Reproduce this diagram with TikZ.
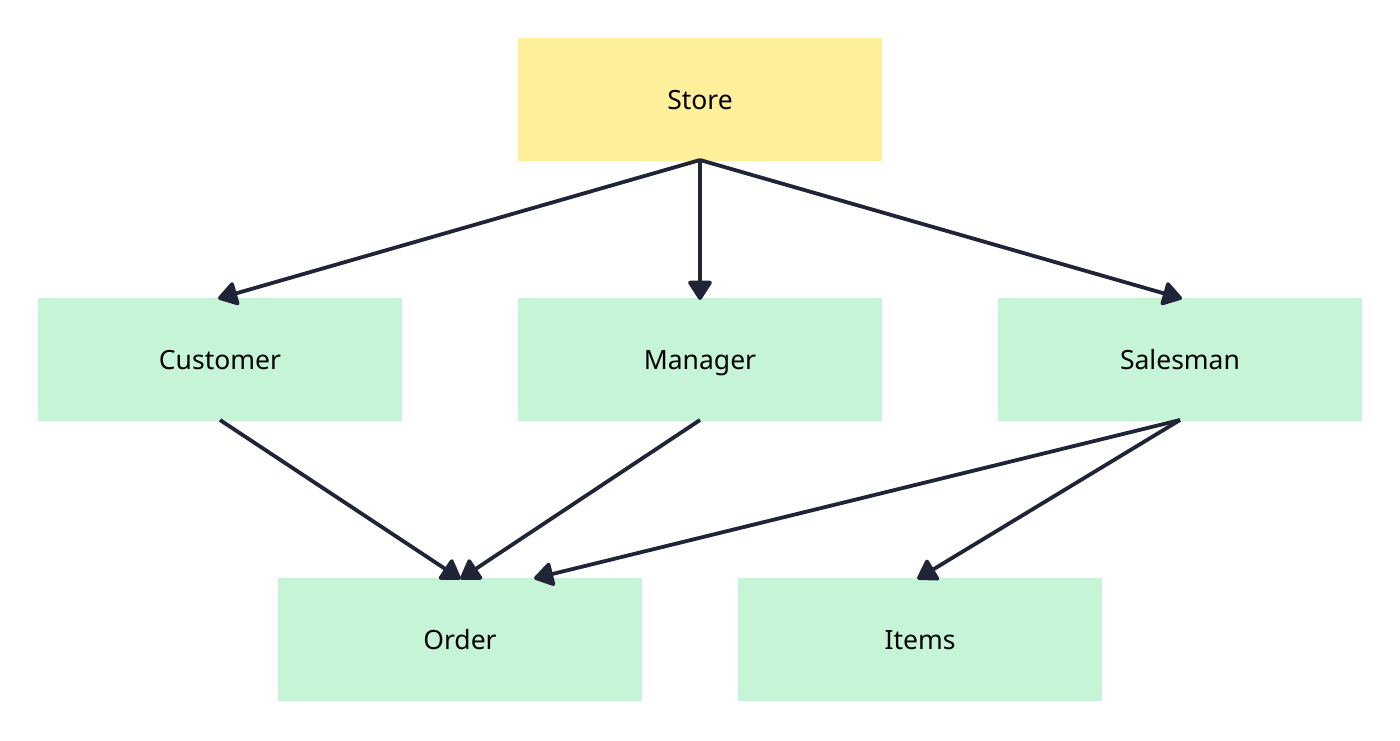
\documentclass[tikz,border=0pt]{standalone}
\usepackage{fontspec}
\setmainfont{Noto Sans}
\usetikzlibrary{arrows.meta}
\definecolor{storefill}{HTML}{FEF09A}
\definecolor{boxfill}{HTML}{C6F4D6}
\definecolor{linecol}{HTML}{1F2537}
\begin{document}
\begin{tikzpicture}[x=1pt,y=-1pt,
  box/.style={draw=none,fill=boxfill,minimum width=364pt,minimum height=123pt,inner sep=0pt,font=\fontsize{26.5}{30}\selectfont,text=black,text height=19pt,text depth=0pt},
  storebox/.style={box,fill=storefill},
  conn/.style={draw=linecol,line width=3.8pt,-{Triangle[length=21pt,width=26pt,round]},shorten >=-2pt}]
\useasboundingbox (0,0) rectangle (1400,740);
\node[storebox] (store) at (700,99.5) {Store};
\node[box] (customer) at (220,359.5) {Customer};
\node[box] (manager) at (700,359.5) {Manager};
\node[box] (salesman) at (1180,359.5) {Salesman};
\node[box] (order) at (460,639.5) {Order};
\node[box] (items) at (920,639.5) {Items};
\coordinate (s0) at (700,160);
\coordinate (c0) at (220,420);
\coordinate (m0) at (700,420);
\coordinate (sa0) at (1180,420);
\coordinate (ct) at (220,298);
\coordinate (mt) at (700,298);
\coordinate (st) at (1180,298);
\coordinate (ot1) at (459,578);
\coordinate (ot2) at (462,578);
\coordinate (ot3) at (536,578);
\coordinate (it) at (919,578);
\draw[conn,line join=round] (s0) -- (ct);
\draw[conn] (s0) -- (mt);
\draw[conn] (s0) -- (st);
\draw[conn] (c0) -- (ot1);
\draw[conn] (m0) -- (ot2);
\draw[conn] (sa0) -- (ot3);
\draw[conn] (sa0) -- (it);
\end{tikzpicture}
\end{document}
